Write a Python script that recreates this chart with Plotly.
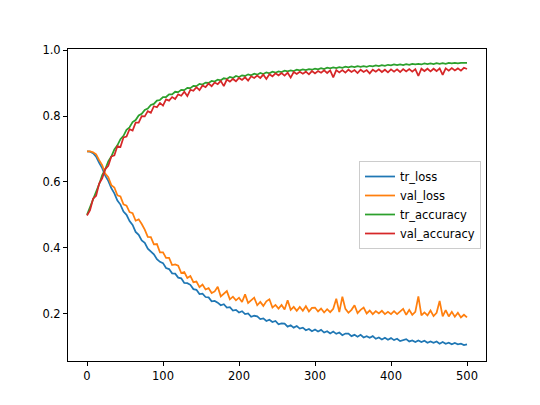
import plotly.graph_objects as go

epochs = list(range(0, 501, 4))

tr_loss = [
    0.693, 0.692, 0.687, 0.677, 0.658, 0.642, 0.619, 0.603, 0.581, 0.565,
    0.543, 0.531, 0.510, 0.500, 0.481, 0.469, 0.448, 0.439, 0.422, 0.415,
    0.397, 0.389, 0.380, 0.365, 0.357, 0.353, 0.338, 0.335, 0.322, 0.321,
    0.309, 0.307, 0.293, 0.292, 0.287, 0.274, 0.272, 0.259, 0.260, 0.250,
    0.249, 0.237, 0.238, 0.233, 0.225, 0.228, 0.218, 0.219, 0.209, 0.211,
    0.203, 0.207, 0.198, 0.200, 0.190, 0.193, 0.191, 0.183, 0.185, 0.177,
    0.181, 0.174, 0.177, 0.167, 0.170, 0.169, 0.160, 0.164, 0.157, 0.162,
    0.154, 0.157, 0.149, 0.153, 0.146, 0.151, 0.145, 0.150, 0.142, 0.146,
    0.139, 0.145, 0.138, 0.142, 0.134, 0.139, 0.139, 0.131, 0.135, 0.129,
    0.135, 0.127, 0.131, 0.126, 0.131, 0.123, 0.127, 0.121, 0.126, 0.120,
    0.125, 0.119, 0.123, 0.116, 0.120, 0.122, 0.115, 0.118, 0.113, 0.118,
    0.113, 0.117, 0.111, 0.115, 0.111, 0.115, 0.108, 0.113, 0.108, 0.111,
    0.106, 0.110, 0.106, 0.108, 0.104, 0.106,
]

val_loss = [
    0.693, 0.693, 0.690, 0.684, 0.666, 0.651, 0.625, 0.614, 0.590, 0.583,
    0.559, 0.556, 0.532, 0.528, 0.508, 0.505, 0.482, 0.486, 0.472, 0.455,
    0.433, 0.432, 0.410, 0.411, 0.386, 0.386, 0.369, 0.369, 0.347, 0.349,
    0.345, 0.323, 0.326, 0.308, 0.314, 0.295, 0.297, 0.280, 0.288, 0.273,
    0.277, 0.262, 0.267, 0.281, 0.252, 0.259, 0.268, 0.243, 0.251, 0.240,
    0.248, 0.235, 0.258, 0.232, 0.240, 0.248, 0.225, 0.235, 0.223, 0.237,
    0.243, 0.218, 0.226, 0.215, 0.226, 0.212, 0.240, 0.211, 0.220, 0.208,
    0.220, 0.208, 0.222, 0.206, 0.217, 0.218, 0.206, 0.215, 0.203, 0.213,
    0.204, 0.214, 0.245, 0.204, 0.251, 0.214, 0.202, 0.211, 0.225, 0.201,
    0.211, 0.218, 0.200, 0.209, 0.198, 0.207, 0.200, 0.208, 0.198, 0.205,
    0.198, 0.207, 0.198, 0.205, 0.214, 0.196, 0.211, 0.196, 0.205, 0.252,
    0.194, 0.203, 0.194, 0.209, 0.192, 0.202, 0.238, 0.191, 0.210, 0.191,
    0.205, 0.190, 0.202, 0.188, 0.196, 0.188,
]

tr_accuracy = [
    0.500, 0.523, 0.544, 0.572, 0.593, 0.621, 0.638, 0.662, 0.677, 0.699,
    0.711, 0.730, 0.740, 0.758, 0.766, 0.782, 0.788, 0.802, 0.807, 0.819,
    0.823, 0.834, 0.837, 0.847, 0.849, 0.858, 0.858, 0.866, 0.866, 0.874,
    0.873, 0.880, 0.879, 0.886, 0.885, 0.892, 0.891, 0.898, 0.896, 0.902,
    0.901, 0.907, 0.905, 0.911, 0.909, 0.915, 0.913, 0.919, 0.916, 0.922,
    0.919, 0.924, 0.922, 0.927, 0.924, 0.929, 0.926, 0.931, 0.928, 0.933,
    0.930, 0.935, 0.932, 0.936, 0.934, 0.938, 0.936, 0.939, 0.937, 0.941,
    0.939, 0.942, 0.940, 0.943, 0.941, 0.944, 0.942, 0.946, 0.943, 0.947,
    0.945, 0.948, 0.946, 0.949, 0.947, 0.950, 0.948, 0.951, 0.949, 0.952,
    0.950, 0.952, 0.950, 0.953, 0.951, 0.954, 0.952, 0.955, 0.953, 0.956,
    0.954, 0.957, 0.955, 0.957, 0.955, 0.958, 0.956, 0.959, 0.957, 0.959,
    0.957, 0.960, 0.958, 0.960, 0.958, 0.961, 0.959, 0.961, 0.959, 0.962,
    0.960, 0.962, 0.960, 0.962, 0.961, 0.962,
]

val_accuracy = [
    0.498, 0.514, 0.549, 0.558, 0.595, 0.611, 0.639, 0.649, 0.677, 0.681,
    0.709, 0.706, 0.735, 0.738, 0.760, 0.756, 0.780, 0.780, 0.800, 0.799,
    0.815, 0.810, 0.830, 0.827, 0.840, 0.832, 0.851, 0.847, 0.858, 0.852,
    0.866, 0.862, 0.874, 0.861, 0.880, 0.877, 0.888, 0.879, 0.893, 0.888,
    0.899, 0.891, 0.902, 0.897, 0.907, 0.891, 0.911, 0.905, 0.913, 0.906,
    0.916, 0.910, 0.918, 0.908, 0.921, 0.916, 0.923, 0.916, 0.926, 0.913,
    0.927, 0.921, 0.930, 0.924, 0.931, 0.923, 0.932, 0.917, 0.934, 0.928,
    0.935, 0.929, 0.935, 0.927, 0.937, 0.930, 0.937, 0.932, 0.939, 0.931,
    0.939, 0.918, 0.940, 0.933, 0.940, 0.932, 0.941, 0.934, 0.940, 0.931,
    0.941, 0.934, 0.940, 0.930, 0.941, 0.935, 0.942, 0.934, 0.941, 0.933,
    0.942, 0.935, 0.942, 0.934, 0.943, 0.936, 0.943, 0.935, 0.943, 0.922,
    0.944, 0.937, 0.944, 0.936, 0.944, 0.937, 0.945, 0.925, 0.945, 0.938,
    0.946, 0.939, 0.945, 0.938, 0.947, 0.943,
]

series_names = ["tr_loss", "val_loss", "tr_accuracy", "val_accuracy"]
series_colors = ["#1f77b4", "#ff7f0e", "#2ca02c", "#d62728"]
series_values = [tr_loss, val_loss, tr_accuracy, val_accuracy]

x_ticks = [0, 100, 200, 300, 400, 500]
y_ticks = [0.2, 0.4, 0.6, 0.8, 1.0]
y_tick_labels = ["0.2", "0.4", "0.6", "0.8", "1.0"]

fig = go.Figure()
for name, color, vals in zip(series_names, series_colors, series_values):
    fig.add_trace(go.Scatter(
        x=epochs, y=vals, mode="lines", name=name,
        line=dict(color=color, width=1.75),
    ))

axis_common = dict(
    showline=True, linecolor="black", linewidth=1, mirror=True,
    ticks="outside", ticklen=4, tickwidth=1, tickcolor="black",
    showgrid=False, zeroline=False,
    tickfont=dict(family="DejaVu Sans", size=11.5, color="black"),
)

# page body adds an 8px offset, so margins are reduced by 8 on left/top
fig.update_layout(
    width=540, height=405,
    margin=dict(l=60, r=62, t=41, b=52),
    paper_bgcolor="white", plot_bgcolor="white",
    font=dict(family="DejaVu Sans", size=11.5, color="black"),
    xaxis=dict(range=[-25, 525], tickvals=x_ticks, **axis_common),
    yaxis=dict(range=[0.0555, 1.004], tickvals=y_ticks, ticktext=y_tick_labels, **axis_common),
    legend=dict(
        x=0.988, y=0.5, xanchor="right", yanchor="middle",
        bgcolor="rgba(255,255,255,0.8)", bordercolor="#cccccc", borderwidth=1,
        font=dict(family="DejaVu Sans", size=11.5, color="black"),
        itemwidth=30, tracegroupgap=0,
    ),
    showlegend=True,
)

fig.write_html("out.html")
